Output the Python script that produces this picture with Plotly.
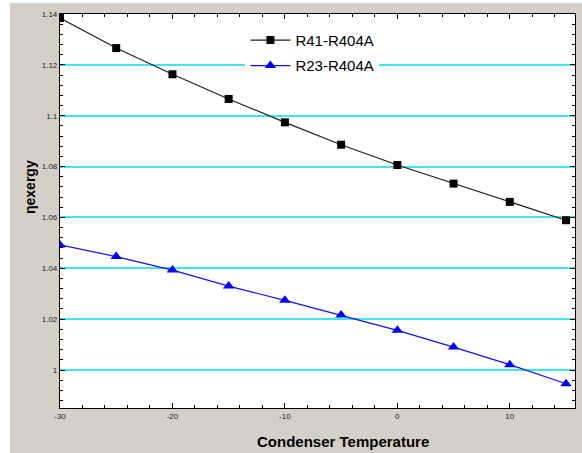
import plotly.graph_objects as go

temps = [-30, -25, -20, -15, -10, -5, 0, 5, 10, 15]
r41_r404a = [1.1384, 1.1266, 1.1163, 1.1066, 1.0974, 1.0886, 1.0806, 1.0733, 1.0661, 1.0589]
r23_r404a = [1.0492, 1.0446, 1.0393, 1.0330, 1.0274, 1.0216, 1.0156, 1.0090, 1.0021, 0.9946]
ytick_vals = [1.0, 1.02, 1.04, 1.06, 1.08, 1.1, 1.12, 1.14]
ytick_text = ["1", "1.02", "1.04", "1.06", "1.08", "1.1", "1.12", "1.14"]
xtick_vals = [-30, -20, -10, 0, 10]
xtick_text = ["-30", "-20", "-10", "0", "10"]

fig = go.Figure()
fig.add_trace(go.Scatter(
    x=temps, y=r41_r404a, name="R41-R404A", mode="lines+markers",
    line=dict(color="#202020", width=1.2),
    marker=dict(symbol="square", size=8, color="black"),
    legendgroup="a"))
fig.add_trace(go.Scatter(
    x=temps, y=r23_r404a, name="R23-R404A", mode="lines+markers",
    line=dict(color="#1010ff", width=1.2),
    marker=dict(symbol="triangle-up", size=10, color="#0000ff"),
    legendgroup="b"))

axis_common = dict(
    showline=True, linecolor="black", linewidth=1.2, mirror="ticks",
    ticks="inside", ticklen=5, tickcolor="black", tickwidth=1.2, zeroline=False,
    tickfont=dict(family="Arial", size=8, color="#222222"),
)
fig.update_xaxes(range=[-30, 15.8], tickvals=xtick_vals, ticktext=xtick_text,
                 showgrid=False,
                 minor=dict(dtick=2, ticks="inside", ticklen=3, tickwidth=1.2,
                            tickcolor="black", showgrid=False),
                 **axis_common)
fig.update_yaxes(range=[0.98506, 1.14], tickvals=ytick_vals, ticktext=ytick_text,
                 showgrid=True, gridcolor="#3ee6ee", gridwidth=1.5,
                 minor=dict(dtick=0.004, tick0=1.0, ticks="inside", ticklen=3, tickwidth=1.2,
                            tickcolor="black", showgrid=False),
                 **axis_common)

fig.update_layout(
    width=582, height=453,
    margin=dict(l=60, r=7, t=14, b=45),
    paper_bgcolor="#d4d0c8", plot_bgcolor="white",
    showlegend=True,
    legend=dict(x=0.36, y=0.975, xanchor="left", yanchor="top",
                bgcolor="white", borderwidth=0, itemwidth=40,
                font=dict(family="Arial", size=15, color="black"),
                tracegroupgap=3),
    annotations=[
        dict(text="<b>Condenser Temperature</b>", xref="paper", yref="paper",
             x=(343 - 60) / 515, y=-(441 - 408) / 394, xanchor="center", yanchor="middle",
             showarrow=False, font=dict(family="Arial", size=15, color="black")),
        dict(text="<b>ηexergy</b>", xref="paper", yref="paper",
             x=-(60 - 30) / 515, y=(408 - 187) / 394, xanchor="center", yanchor="middle",
             textangle=-90, showarrow=False, font=dict(family="Arial", size=14, color="black")),
    ],
    shapes=[
        dict(type="rect", xref="paper", yref="paper", x0=-60 / 515, x1=-50 / 515,
             y0=-45 / 394, y1=1 + 14 / 394, fillcolor="white", line=dict(width=0), layer="below"),
        dict(type="rect", xref="paper", yref="paper", x0=-60 / 515, x1=1 + 7 / 515,
             y0=1 + 11 / 394, y1=1 + 14 / 394, fillcolor="white", line=dict(width=0), layer="below"),
    ],
)

fig.write_html("out.html", config={"displayModeBar": False},
               post_script="document.body.style.margin='0';document.body.style.padding='0';")
